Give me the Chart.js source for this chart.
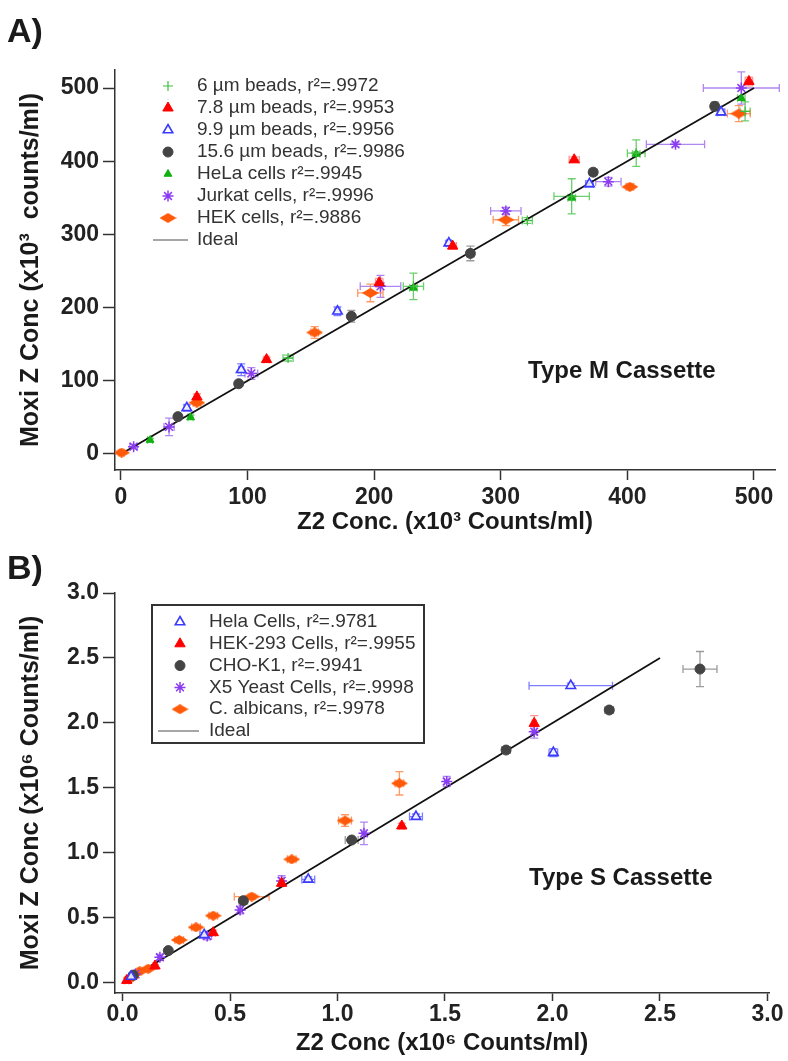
<!DOCTYPE html>
<html>
<head>
<meta charset="utf-8">
<script src="https://cdn.jsdelivr.net/npm/chart.js@4.4.1/dist/chart.umd.min.js"></script>
<style>
body { margin: 0; background: #fff; width: 788px; height: 1061px; position: relative; overflow: hidden;
       font-family: "Liberation Sans", Arial, sans-serif; }
canvas { position: absolute; left: 0; }
#chartA { top: 0; }
#chartB { top: 540px; }
.lbl { position: absolute; font-weight: bold; color: #1a1a1a; white-space: nowrap; line-height: 1; }
</style>
</head>
<body>
<canvas id="chartA" width="788" height="540"></canvas>
<canvas id="chartB" width="788" height="521"></canvas>
<div class="lbl" style="left:7px;top:13px;font-size:34px">A)</div>
<div class="lbl" style="left:7px;top:550px;font-size:34px">B)</div>
<div class="lbl" style="left:528px;top:358px;font-size:24px">Type M Cassette</div>
<div class="lbl" style="left:529px;top:865px;font-size:24px">Type S Cassette</div>
<script>
// ---- panel A : Type M cassette (x10^3 counts/ml) ----
var xTicksA = [0, 100, 200, 300, 400, 500];
var yTicksA = [0, 100, 200, 300, 400, 500];
var idealA = [0, 500];

var beads6X = [132, 231, 321, 356, 407, 493];
var beads6Y = [131, 229, 319, 352, 411, 468];
var beads6XErr = [4, 8, 4, 14, 7, 4];
var beads6YErr = [4, 18, 4, 24, 18, 13];

var beads78X = [60, 115, 204, 262, 358, 496];
var beads78Y = [78, 129, 234, 284, 402, 509];
var beads78XErr = [2, 2, 3, 3, 4, 3];
var beads78YErr = [4, 3, 6, 4, 4, 6];

var beads99X = [52, 95, 171, 259, 370, 474];
var beads99Y = [63, 115, 195, 288, 369, 467];
var beads99XErr = [2, 2, 2, 2, 3, 3];
var beads99YErr = [4, 8, 6, 3, 4, 4];

var beads156X = [45, 93, 182, 276, 373, 469];
var beads156Y = [51, 96, 188, 274, 385, 475];
var beads156XErr = [2, 2, 2, 3, 3, 3];
var beads156YErr = [3, 3, 8, 10, 4, 6];

var helaAX = [23, 55, 231, 356, 407, 490];
var helaAY = [19, 50, 227, 350, 410, 486];
var helaAXErr = [2, 2, 3, 3, 3, 3];
var helaAYErr = [2, 3, 3, 3, 3, 3];

var jurkatX = [10, 38, 103, 205, 304, 385, 438, 490];
var jurkatY = [10, 37, 110, 229, 332, 372, 423, 500];
var jurkatXErr = [3, 4, 5, 16, 12, 10, 23, 30];
var jurkatYErr = [3, 12, 8, 15, 5, 6, 3, 22];

var hekAX = [0.5, 60, 153, 197, 304, 402, 488];
var hekAY = [1.8, 70, 166, 220, 320, 365, 465];
var hekAXErr = [2, 3, 3, 10, 10, 3, 9];
var hekAYErr = [2, 3, 8, 12, 8, 4, 11];

// ---- panel B : Type S cassette (x10^6 counts/ml) ----
var xTicksB = [0, 0.5, 1, 1.5, 2, 2.5, 3];
var yTicksB = [0, 0.5, 1, 1.5, 2, 2.5, 3];
var idealB = [0, 2.5];

var helaBX = [0.04, 0.38, 0.864, 1.365, 2.004, 2.085];
var helaBY = [0.05, 0.37, 0.797, 1.28, 1.772, 2.287];
var helaBXErr = [0.01, 0.02, 0.03, 0.03, 0.02, 0.194];
var helaBYErr = [0.01, 0.02, 0.02, 0.02, 0.03, 0.02];

var hek293X = [0.02, 0.151, 0.422, 0.74, 1.299, 1.915];
var hek293Y = [0.02, 0.131, 0.387, 0.767, 1.208, 1.997];
var hek293XErr = [0.01, 0.01, 0.01, 0.01, 0.01, 0.01];
var hek293YErr = [0.01, 0.01, 0.02, 0.02, 0.02, 0.06];

var choX = [0.05, 0.213, 0.562, 1.066, 1.784, 2.264, 2.686];
var choY = [0.06, 0.249, 0.633, 1.1, 1.792, 2.1, 2.415];
var choXErr = [0.01, 0.01, 0.02, 0.03, 0.02, 0.02, 0.079];
var choYErr = [0.01, 0.01, 0.02, 0.02, 0.02, 0.02, 0.135];

var yeastX = [0.06, 0.174, 0.394, 0.547, 0.74, 1.123, 1.508, 1.915];
var yeastY = [0.07, 0.198, 0.362, 0.562, 0.785, 1.151, 1.55, 1.933];
var yeastXErr = [0.01, 0.01, 0.02, 0.01, 0.01, 0.01, 0.01, 0.01];
var yeastYErr = [0.01, 0.02, 0.03, 0.03, 0.04, 0.087, 0.04, 0.05];

var albX = [0.04, 0.08, 0.12, 0.264, 0.342, 0.422, 0.601, 0.787, 1.035, 1.288];
var albY = [0.04, 0.09, 0.11, 0.331, 0.428, 0.518, 0.664, 0.951, 1.249, 1.536];
var albXErr = [0.01, 0.01, 0.01, 0.02, 0.02, 0.02, 0.081, 0.02, 0.03, 0.02];
var albYErr = [0.01, 0.01, 0.01, 0.01, 0.01, 0.01, 0.02, 0.01, 0.045, 0.09];

var FONT = '"Liberation Sans", Arial, sans-serif';

// flat orange diamond marker, like the Igor one
function diamond(color, w, h) {
    var c = document.createElement('canvas');
    c.width = w; c.height = h;
    var g = c.getContext('2d');
    g.fillStyle = color;
    g.beginPath();
    g.moveTo(w / 2, 0); g.lineTo(w, h / 2); g.lineTo(w / 2, h); g.lineTo(0, h / 2);
    g.closePath();
    g.fill();
    return c;
}
var orangeDiamond = diamond('#ff5a0a', 17, 10);

function series(label, xs, ys, xe, ye, style) {
    var ds = {
        label: label,
        data: xs.map(function (x, i) { return { x: x, y: ys[i] }; }),
        xErr: xe,
        yErr: ye
    };
    return Object.assign(ds, style);
}

function ideal(vals) {
    return {
        label: 'Ideal',
        isIdeal: true,
        data: vals.map(function (v) { return { x: v, y: v }; }),
        showLine: true,
        borderColor: '#111',
        borderWidth: 1.8,
        pointRadius: 0
    };
}

var green6 = { pointStyle: 'cross', pointRadius: 5, borderColor: '#3fbf3f', backgroundColor: '#3fbf3f', borderWidth: 1.2, errColor: 'rgba(60,190,60,0.75)' };
var redTri = { pointStyle: 'triangle', pointRadius: 6, borderColor: '#ff0000', backgroundColor: '#ff0000', borderWidth: 1, errColor: 'rgba(255,60,60,0.55)' };
var blueOpen = { pointStyle: 'triangle', pointRadius: 5.5, borderColor: '#3a3aff', backgroundColor: 'rgba(255,255,255,0.85)', borderWidth: 1.6, errColor: 'rgba(70,70,255,0.7)' };
var blackDot = { pointStyle: 'circle', pointRadius: 5, borderColor: '#444', backgroundColor: '#444', borderWidth: 1, errColor: 'rgba(90,90,90,0.6)' };
var greenTri = { pointStyle: 'triangle', pointRadius: 4.5, borderColor: '#10b010', backgroundColor: '#10b010', borderWidth: 1, errColor: 'rgba(40,180,40,0.6)' };
var purpleStar = { pointStyle: 'star', pointRadius: 5.5, borderColor: '#8a3cf0', backgroundColor: '#8a3cf0', borderWidth: 1.5, errColor: 'rgba(150,95,235,0.75)' };
var orangeDia = { pointStyle: orangeDiamond, pointRadius: 6, borderColor: '#ff5a0a', backgroundColor: '#ff5a0a', borderWidth: 1, errColor: 'rgba(255,120,50,0.75)' };

var errorBars = {
    id: 'errorBars',
    beforeDatasetsDraw: function (chart) {
        var ctx = chart.ctx, xs = chart.scales.x, ys = chart.scales.y;
        var cap = 4;
        chart.data.datasets.forEach(function (ds) {
            if (!ds.xErr) return;
            ctx.save();
            ctx.strokeStyle = ds.errColor;
            ctx.lineWidth = 1.3;
            ds.data.forEach(function (p, i) {
                var px = xs.getPixelForValue(p.x), py = ys.getPixelForValue(p.y);
                var x0 = xs.getPixelForValue(p.x - ds.xErr[i]), x1 = xs.getPixelForValue(p.x + ds.xErr[i]);
                var y0 = ys.getPixelForValue(p.y - ds.yErr[i]), y1 = ys.getPixelForValue(p.y + ds.yErr[i]);
                ctx.beginPath();
                ctx.moveTo(x0, py); ctx.lineTo(x1, py);
                ctx.moveTo(x0, py - cap); ctx.lineTo(x0, py + cap);
                ctx.moveTo(x1, py - cap); ctx.lineTo(x1, py + cap);
                ctx.moveTo(px, y0); ctx.lineTo(px, y1);
                ctx.moveTo(px - cap, y0); ctx.lineTo(px + cap, y0);
                ctx.moveTo(px - cap, y1); ctx.lineTo(px + cap, y1);
                ctx.stroke();
            });
            ctx.restore();
        });
    }
};

var sideLegend = {
    id: 'sideLegend',
    afterDraw: function (chart, args, opts) {
        var ctx = chart.ctx;
        ctx.save();
        if (opts.box) {
            ctx.strokeStyle = '#333';
            ctx.lineWidth = 2;
            ctx.strokeRect(opts.box[0], opts.box[1], opts.box[2], opts.box[3]);
        }
        ctx.font = '19px ' + FONT;
        ctx.textBaseline = 'middle';
        chart.data.datasets.forEach(function (ds, i) {
            var y = opts.top + i * opts.step;
            if (ds.isIdeal) {
                ctx.strokeStyle = '#888';
                ctx.lineWidth = 1.5;
                ctx.beginPath();
                ctx.moveTo(opts.lineX[0], y); ctx.lineTo(opts.lineX[1], y);
                ctx.stroke();
            } else {
                ctx.fillStyle = ds.backgroundColor;
                ctx.strokeStyle = ds.borderColor;
                ctx.lineWidth = ds.borderWidth;
                Chart.helpers.drawPoint(ctx, {
                    pointStyle: ds.pointStyle, radius: ds.pointRadius, rotation: 0, borderWidth: ds.borderWidth
                }, opts.markerX, y);
            }
            ctx.fillStyle = '#333';
            ctx.fillText(ds.label, opts.textX, y);
        });
        ctx.restore();
    }
};

function axis(o) {
    return {
        type: 'linear',
        min: o.min,
        max: o.max,
        afterBuildTicks: function (s) { s.ticks = o.ticks.map(function (v) { return { value: v }; }); },
        afterFit: function (s) { if (o.width) s.width = o.width; if (o.height) s.height = o.height; },
        ticks: {
            font: { family: FONT, size: 23, weight: 'bold', lineHeight: o.tickLH || 1.2 },
            color: '#222',
            padding: o.tickPad !== undefined ? o.tickPad : 4,
            maxRotation: 0,
            autoSkip: false,
            callback: o.fmt
        },
        grid: { drawOnChartArea: false, drawTicks: true, tickLength: o.tickLen || 12, tickColor: '#333', tickWidth: 1.5 },
        border: { display: true, color: '#333', width: 1.5 },
        title: {
            display: true,
            text: o.title,
            color: '#1a1a1a',
            font: { family: FONT, size: o.titleSize || 24, weight: 'bold', lineHeight: 1.2 },
            padding: o.titlePad
        }
    };
}

function makeChart(id, datasets, scales, padding, legendOpts) {
    return new Chart(document.getElementById(id), {
        type: 'scatter',
        data: { datasets: datasets },
        options: {
            responsive: false,
            animation: false,
            events: [],
            devicePixelRatio: 1,
            layout: { padding: padding },
            plugins: { legend: { display: false }, tooltip: { enabled: false }, sideLegend: legendOpts },
            scales: scales
        },
        plugins: [errorBars, sideLegend]
    });
}

makeChart('chartA', [
    series('6 \u00b5m beads, r\u00b2=.9972', beads6X, beads6Y, beads6XErr, beads6YErr, green6),
    series('7.8 \u00b5m beads, r\u00b2=.9953', beads78X, beads78Y, beads78XErr, beads78YErr, redTri),
    series('9.9 \u00b5m beads, r\u00b2=.9956', beads99X, beads99Y, beads99XErr, beads99YErr, blueOpen),
    series('15.6 \u00b5m beads, r\u00b2=.9986', beads156X, beads156Y, beads156XErr, beads156YErr, blackDot),
    series('HeLa cells r\u00b2=.9945', helaAX, helaAY, helaAXErr, helaAYErr, greenTri),
    series('Jurkat cells, r\u00b2=.9996', jurkatX, jurkatY, jurkatXErr, jurkatYErr, purpleStar),
    series('HEK cells, r\u00b2=.9886', hekAX, hekAY, hekAXErr, hekAYErr, orangeDia),
    ideal(idealA)
], {
    x: axis({ min: -4.7, max: 516.6, ticks: xTicksA, height: 70, tickLen: 10,
              title: 'Z2 Conc. (x10\u00b3 Counts/ml)', titlePad: { top: 0, bottom: 3 } }),
    y: axis({ min: -21.9, max: 524.6, ticks: yTicksA, width: 115, titleSize: 25,
              title: 'Moxi Z Conc (x10\u00b3  counts/ml)', titlePad: { top: 16, bottom: 0 } })
}, { top: 70, right: 13, left: 0, bottom: 0 },
   { top: 86, step: 22, markerX: 168, textX: 197, lineX: [153, 188] });

makeChart('chartB', [
    series('Hela Cells, r\u00b2=.9781', helaBX, helaBY, helaBXErr, helaBYErr, blueOpen),
    series('HEK-293 Cells, r\u00b2=.9955', hek293X, hek293Y, hek293XErr, hek293YErr, redTri),
    series('CHO-K1, r\u00b2=.9941', choX, choY, choXErr, choYErr, blackDot),
    series('X5 Yeast Cells, r\u00b2=.9998', yeastX, yeastY, yeastXErr, yeastYErr, purpleStar),
    series('C. albicans, r\u00b2=.9978', albX, albY, albXErr, albYErr, orangeDia),
    ideal(idealB)
], {
    x: axis({ min: -0.0349, max: 3.007, ticks: xTicksB, height: 68, tickLen: 8, tickPad: 2, tickLH: 1.0,
              fmt: function (v) { return v.toFixed(1); },
              title: 'Z2 Conc (x10\u2076 Counts/ml)', titlePad: { top: 0, bottom: 3 } }),
    y: axis({ min: -0.077, max: 3.0, ticks: yTicksB, width: 115, titleSize: 25,
              fmt: function (v) { return v.toFixed(1); },
              title: 'Moxi Z Conc (x10\u2076 Counts/ml)', titlePad: { top: 16, bottom: 0 } })
}, { top: 53, right: 19, left: 0, bottom: 0 },
   { top: 82, step: 21.8, markerX: 180, textX: 209, lineX: [158, 199], box: [152, 65, 272, 138] });
</script>
</body>
</html>
